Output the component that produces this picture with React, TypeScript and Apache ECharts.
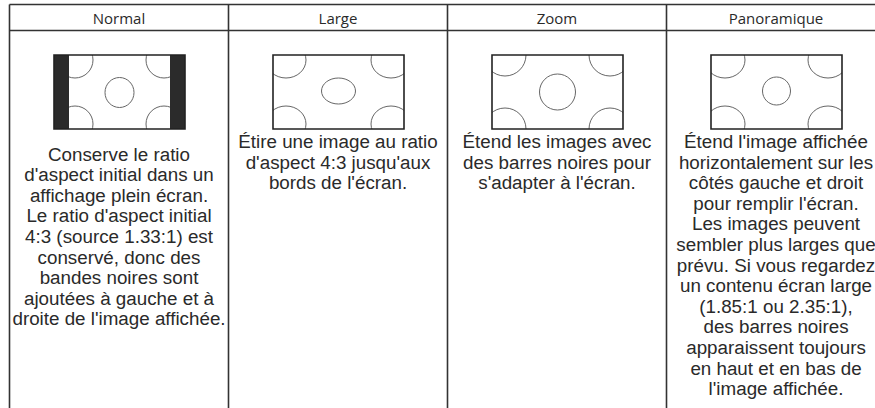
import { useEffect, useRef } from "react";
import * as echarts from "echarts";

const modes = ["Normal", "Large", "Zoom", "Panoramique"];

const normalText = [
  "Conserve le ratio",
  "d'aspect initial dans un",
  "affichage plein écran.",
  "Le ratio d'aspect initial",
  "4:3 (source 1.33:1) est",
  "conservé, donc des",
  "bandes noires sont",
  "ajoutées à gauche et à",
  "droite de l'image affichée.",
];
const largeText = ["Étire une image au ratio", "d'aspect 4:3 jusqu'aux", "bords de l'écran."];
const zoomText = ["Étend les images avec", "des barres noires pour", "s'adapter à l'écran."];
const panoText = [
  "Étend l'image affichée",
  "horizontalement sur les",
  "côtés gauche et droit",
  "pour remplir l'écran.",
  "Les images peuvent",
  "sembler plus larges que",
  "prévu. Si vous regardez",
  "un contenu écran large",
  "(1.85:1 ou 2.35:1),",
  "des barres noires",
  "apparaissent toujours",
  "en haut et en bas de",
  "l'image affichée.",
];
const descriptions = [normalText, largeText, zoomText, panoText];

// layout
const TABLE_LEFT = 9.5;
const COL_W = 219;
const TOP_Y = 4.5;
const HEAD_Y = 30.5;
const ICON_W = 131;
const ICON_H = 74;
const ICON_Y = 55;
const TEXT_Y = [154, 141.5, 141.5, 141.5];
const LINE_H = 20.6;
const TEXT_COLOR = "#2a2a2a";
const LINE_COLOR = "#333";
const CIRCLE = { fill: "none", stroke: "#666", lineWidth: 1 };

function iconElements(mode: number, x0: number, y0: number) {
  const w = ICON_W;
  const h = ICON_H;
  const els: any[] = [];
  const ell = (cx: number, cy: number, rx: number, ry: number) =>
    els.push({ type: "ellipse", shape: { cx, cy, rx, ry }, style: { ...CIRCLE }, z2: 1 });
  if (mode === 0) {
    const b = 15;
    ell(x0 + b + 6, y0 + 5, 18, 18);
    ell(x0 + w - b - 6, y0 + 5, 18, 18);
    ell(x0 + b + 6, y0 + h - 5, 18, 18);
    ell(x0 + w - b - 6, y0 + h - 5, 18, 18);
    ell(x0 + w / 2, y0 + 37.5, 14.5, 15);
  } else if (mode === 1) {
    ell(x0 + 13, y0 + 5, 20, 18);
    ell(x0 + w - 13, y0 + 5, 20, 18);
    ell(x0 + 13, y0 + h - 5, 20, 18);
    ell(x0 + w - 13, y0 + h - 5, 20, 18);
    ell(x0 + w / 2, y0 + 36, 17, 13);
  } else if (mode === 2) {
    ell(x0 + 13, y0, 21, 21);
    ell(x0 + w - 13, y0, 21, 21);
    ell(x0 + 13, y0 + h, 21, 21);
    ell(x0 + w - 13, y0 + h, 21, 21);
    ell(x0 + w / 2, y0 + 37, 18, 18);
  } else {
    ell(x0 + 14, y0 + 5, 20, 18);
    ell(x0 + w - 14, y0 + 5, 20, 18);
    ell(x0 + 14, y0 + h - 5, 20, 18);
    ell(x0 + w - 14, y0 + h - 5, 20, 18);
    ell(x0 + w / 2, y0 + 36, 14, 14);
  }
  // white masks around the screen
  const m = 24;
  const white = { fill: "#fff" };
  els.push({ type: "rect", shape: { x: x0 - m, y: y0 - m, width: w + 2 * m, height: m }, style: white, z2: 2 });
  els.push({ type: "rect", shape: { x: x0 - m, y: y0 + h, width: w + 2 * m, height: m }, style: white, z2: 2 });
  els.push({ type: "rect", shape: { x: x0 - m, y: y0, width: m, height: h }, style: white, z2: 2 });
  els.push({ type: "rect", shape: { x: x0 + w, y: y0, width: m, height: h }, style: white, z2: 2 });
  if (mode === 0) {
    els.push({ type: "rect", shape: { x: x0, y: y0, width: 15, height: h }, style: { fill: "#2b2b2b" }, z2: 3 });
    els.push({ type: "rect", shape: { x: x0 + w - 15, y: y0, width: 15, height: h }, style: { fill: "#2b2b2b" }, z2: 3 });
  }
  els.push({
    type: "rect",
    shape: { x: x0, y: y0, width: w, height: h },
    style: { fill: "none", stroke: "#222", lineWidth: 1.6 },
    z2: 4,
  });
  return els;
}

export default function App() {
  const ref = useRef<HTMLDivElement>(null);
  useEffect(() => {
    document.body.style.margin = "0";
    const chart = echarts.init(ref.current!, null, { renderer: "svg" });
    const elements: any[] = [];
    modes.forEach((name, i) => {
      const left = TABLE_LEFT + i * COL_W;
      const cx = left + COL_W / 2;
      elements.push(...iconElements(i, Math.round(cx - ICON_W / 2), ICON_Y));
      elements.push({
        type: "text",
        x: cx,
        y: 18,
        style: {
          text: name,
          fill: TEXT_COLOR,
          fontSize: 15,
          fontFamily: "'Open Sans'",
          align: "center",
          verticalAlign: "middle",
        },
        z2: 6,
      });
      descriptions[i].forEach((line, j) => {
        elements.push({
          type: "text",
          x: cx,
          y: TEXT_Y[i] + j * LINE_H,
          style: {
            text: line,
            fill: TEXT_COLOR,
            fontSize: 18.8,
            fontFamily: "'Liberation Sans'",
            align: "center",
            verticalAlign: "middle",
          },
          z2: 6,
        });
      });
      elements.push({
        type: "line",
        shape: { x1: left, y1: TOP_Y, x2: left, y2: 420 },
        style: { stroke: LINE_COLOR, lineWidth: 1.6 },
        z2: 5,
      });
    });
    elements.push({
      type: "line",
      shape: { x1: TABLE_LEFT, y1: TOP_Y, x2: 900, y2: TOP_Y },
      style: { stroke: LINE_COLOR, lineWidth: 1.6 },
      z2: 5,
    });
    elements.push({
      type: "line",
      shape: { x1: TABLE_LEFT, y1: HEAD_Y, x2: 900, y2: HEAD_Y },
      style: { stroke: LINE_COLOR, lineWidth: 1.6 },
      z2: 5,
    });
    chart.setOption({ animation: false, graphic: { elements } });
    return () => chart.dispose();
  }, []);
  return (
    <div
      ref={ref}
      style={{ position: "fixed", left: 0, top: 0, width: 875, height: 408, background: "#fff" }}
    />
  );
}
